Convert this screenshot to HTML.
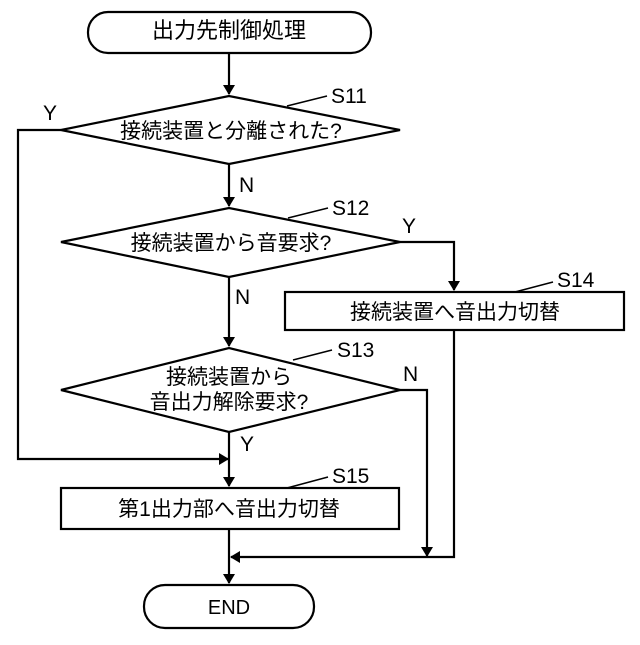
<!DOCTYPE html>
<html><head><meta charset="utf-8"><style>
html,body{margin:0;padding:0;background:#fff;}
svg text{font-family:"Liberation Sans","Noto Sans CJK JP",sans-serif;fill:#000;}
</style></head><body>
<svg width="640" height="640" viewBox="0 0 640 640" xmlns="http://www.w3.org/2000/svg">
<defs>
<marker id="a" markerWidth="10" markerHeight="12" refX="9" refY="6" orient="auto" markerUnits="userSpaceOnUse">
<path d="M0,0 L10,6 L0,12 Z" fill="#000"/>
</marker>
</defs>
<g stroke="#000" stroke-width="2.2" fill="none">
<rect x="88" y="12" width="283" height="41" rx="20" ry="20"/>
<polygon points="61,130 229,96 400,130 229,164"/>
<polygon points="61,242 229,208 400,242 229,277"/>
<rect x="285" y="292" width="339" height="38"/>
<polygon points="61,390 229,348 400,390 229,432"/>
<rect x="61" y="488" width="338" height="41"/>
<rect x="144" y="585" width="170" height="43" rx="21" ry="21"/>

<line x1="229" y1="53" x2="229" y2="94" marker-end="url(#a)"/>
<line x1="229" y1="164" x2="229" y2="206" marker-end="url(#a)"/>
<line x1="229" y1="277" x2="229" y2="346" marker-end="url(#a)"/>
<line x1="229" y1="432" x2="229" y2="486" marker-end="url(#a)"/>
<polyline points="61,130 18,130 18,459 228,459" marker-end="url(#a)"/>
<polyline points="400,242 454,242 454,290" marker-end="url(#a)"/>
<polyline points="400,390 427,390 427,556" marker-end="url(#a)"/>
<polyline points="454,330 454,557 231,557" marker-end="url(#a)"/>
<line x1="229" y1="529" x2="229" y2="583" marker-end="url(#a)"/>

<line x1="287" y1="106" x2="327" y2="96" stroke-width="1.5"/>
<line x1="288" y1="218" x2="328" y2="208" stroke-width="1.5"/>
<line x1="515" y1="292" x2="553" y2="282" stroke-width="1.5"/>
<line x1="293" y1="360" x2="332" y2="350" stroke-width="1.5"/>
<line x1="287" y1="488" x2="328" y2="477" stroke-width="1.5"/>
</g>
<g font-size="21" text-anchor="middle">
<text x="229" y="38" font-size="22">出力先制御処理</text>
<text x="231" y="138">接続装置と分離された?</text>
<text x="231" y="250">接続装置から音要求?</text>
<text x="455" y="319">接続装置へ音出力切替</text>
<text x="229" y="384">接続装置から</text>
<text x="229" y="409">音出力解除要求?</text>
<text x="229" y="516">第1出力部へ音出力切替</text>
<text x="229" y="614" font-size="20">END</text>
</g>
<g font-size="21">
<text x="331" y="103">S11</text>
<text x="332" y="215">S12</text>
<text x="557" y="287">S14</text>
<text x="337" y="357">S13</text>
<text x="332" y="483">S15</text>
<text x="43" y="120">Y</text>
<text x="239" y="192">N</text>
<text x="402" y="233">Y</text>
<text x="235" y="304">N</text>
<text x="403" y="381">N</text>
<text x="240" y="451">Y</text>
</g>
</svg>
</body></html>
